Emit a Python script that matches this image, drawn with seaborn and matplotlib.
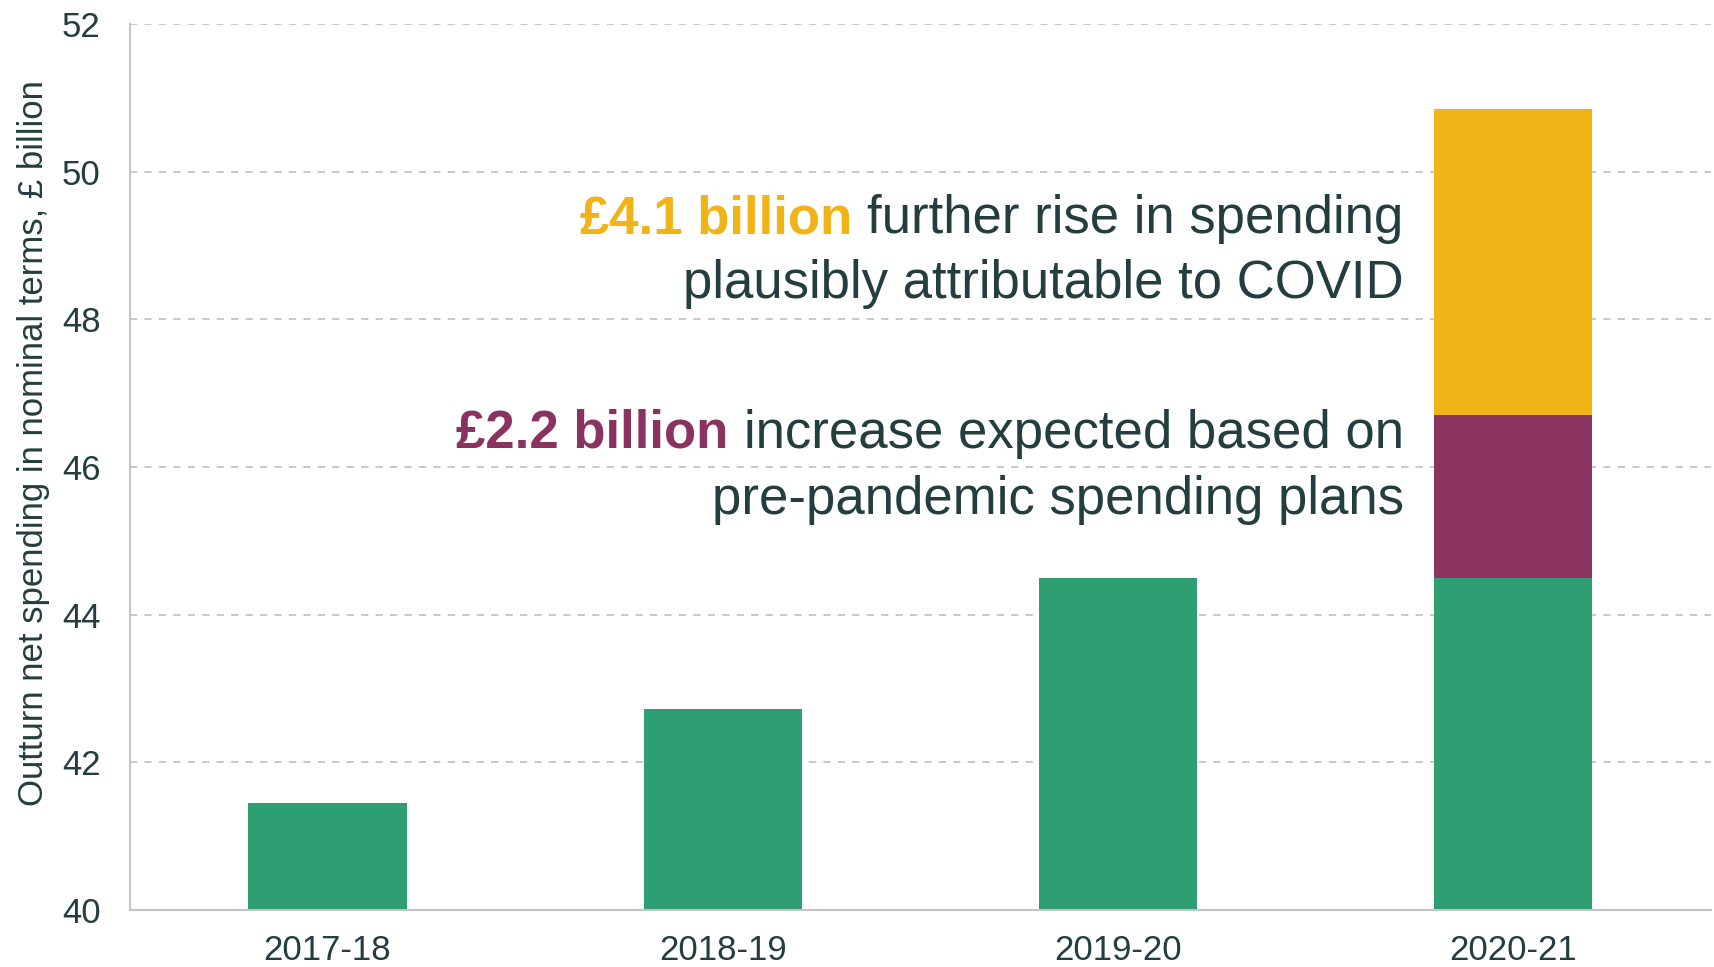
import numpy as np
import pandas as pd
import matplotlib
matplotlib.use("Agg")
import matplotlib.pyplot as plt
import seaborn as sns

# data
years = ["2017-18", "2018-19", "2019-20", "2020-21"]
base_spend = [41.45, 42.72, 44.50, 44.50]
plan_rise = [0.0, 0.0, 0.0, 2.2]
covid_rise = [0.0, 0.0, 0.0, 4.15]

GREEN = "#2E9E73"
PURPLE = "#8B3360"
YELLOW = "#F0B418"
TEXT = "#243E3F"
GREY = "#C4C4C4"

# overlapped bars drawn tallest first, which reads as a stack
rows = []
for i, y in enumerate(years):
    b = base_spend[i]
    rows.append({"year": y, "part": "covid", "top": b + plan_rise[i] + covid_rise[i]})
    rows.append({"year": y, "part": "plan", "top": b + plan_rise[i]})
    rows.append({"year": y, "part": "base", "top": b})
df = pd.DataFrame(rows)
df = df[~((df["part"] != "base") & (df["year"] != "2020-21"))]

sns.set_style("white")
plt.rcParams["font.family"] = ["Liberation Sans", "DejaVu Sans"]

fig = plt.figure(figsize=(17.14, 9.67), dpi=100)
ax = fig.add_axes([0.0758, 0.059, 0.9222, 0.916])

sns.barplot(
    data=df, x="year", y="top", hue="part",
    hue_order=["covid", "plan", "base"], order=years,
    palette={"covid": YELLOW, "plan": PURPLE, "base": GREEN},
    dodge=False, width=0.4, saturation=1, linewidth=0,
    legend=False, ax=ax,
)

ax.set_ylim(40, 52)
ax.set_xlim(-0.5, 3.5)
ax.set_yticks(np.arange(40, 53, 2))
ax.yaxis.grid(True, linestyle=(0, (4, 4)), color=GREY, linewidth=1.3)
ax.set_axisbelow(True)

for s in ["top", "right"]:
    ax.spines[s].set_visible(False)
for s in ["left", "bottom"]:
    ax.spines[s].set_color(GREY)
    ax.spines[s].set_linewidth(1.5)

ax.set_xticks(np.arange(-0.5, 3.6, 1), minor=True)
ax.tick_params(axis="x", which="major", length=0, pad=17, labelsize=25, labelcolor=TEXT)
ax.tick_params(axis="x", which="minor", length=8, width=1.5, color=GREY, direction="out")
ax.tick_params(axis="y", length=8, width=1.5, color=GREY, pad=13, labelsize=25, labelcolor=TEXT)

ax.set_xlabel("")
ax.set_ylabel("Outturn net spending in nominal terms, £ billion", fontsize=25, color=TEXT, labelpad=9)
ax.yaxis.label.set_y(0.527)

# annotations: coloured bold lead-in followed by plain text
xr = 2.723
fs = 38

t1 = ax.text(xr, 49.17, "further rise in spending", ha="right", va="baseline", fontsize=fs, color=TEXT)
ax.text(xr, 48.29, "plausibly attributable to COVID", ha="right", va="baseline", fontsize=fs, color=TEXT)
ax.annotate("£4.1 billion", xy=(0, 0), xycoords=t1, xytext=(-11, 0), textcoords="offset points",
            ha="right", va="bottom", fontsize=fs, fontweight="bold", color=YELLOW)

t2 = ax.text(xr, 46.26, "increase expected based on", ha="right", va="baseline", fontsize=fs, color=TEXT)
ax.text(xr, 45.36, "pre-pandemic spending plans", ha="right", va="baseline", fontsize=fs, color=TEXT)
ax.annotate("£2.2 billion", xy=(0, 0), xycoords=t2, xytext=(-11, 0), textcoords="offset points",
            ha="right", va="bottom", fontsize=fs, fontweight="bold", color=PURPLE)

fig.savefig("out.png", dpi=100)
